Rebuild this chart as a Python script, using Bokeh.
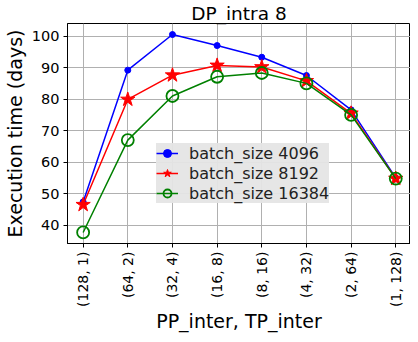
from bokeh.plotting import figure
from bokeh.models import FixedTicker, Range1d, Legend, LegendItem
from bokeh.embed import file_html
from bokeh.resources import INLINE
import math

categories = ["(128, 1)", "(64, 2)", "(32, 4)", "(16, 8)", "(8, 16)", "(4, 32)", "(2, 64)", "(1, 128)"]
bs_4096 = [47.4, 89.2, 100.5, 97.0, 93.3, 87.5, 76.6, 55.0]
bs_8192 = [46.5, 79.9, 87.6, 90.7, 90.2, 85.8, 75.5, 54.8]
bs_16384 = [37.7, 67.0, 81.0, 87.1, 88.3, 85.0, 75.0, 54.8]
y_ticks = [40, 50, 60, 70, 80, 90, 100]

xs = list(range(len(categories)))

FONT = "DejaVu Sans"
X0, X1 = -0.35, 7.33
Y0, Y1 = 34.2, 104.0
p = figure(width=410, height=334, output_backend="svg", toolbar_location=None,
           x_range=Range1d(X0, X1), y_range=Range1d(Y0, Y1),
           min_border_left=62, min_border_right=0, min_border_top=16, min_border_bottom=80)

p.title.text = "DP_intra 8"
p.title.align = "center"
p.title.text_font = FONT
p.title.text_font_size = "18.5px"
p.title.text_font_style = "normal"
p.title.text_color = "black"
p.title.standoff = 0

p.outline_line_color = "black"
p.outline_line_width = 1
p.background_fill_color = "white"

p.xaxis.ticker = FixedTicker(ticks=xs)
p.xaxis.major_label_overrides = {i: c for i, c in enumerate(categories)}
p.xaxis.major_label_orientation = math.pi / 2
p.yaxis.ticker = FixedTicker(ticks=y_ticks)

for ax in (p.xaxis[0], p.yaxis[0]):
    ax.major_label_text_font = FONT
    ax.major_label_text_color = "black"
    ax.axis_label_text_font = FONT
    ax.axis_label_text_font_size = "19px"
    ax.axis_label_text_font_style = "normal"
    ax.axis_label_text_color = "black"
    ax.minor_tick_line_color = None
    ax.major_tick_in = 0
    ax.major_tick_out = 4
    ax.axis_line_color = "black"
    ax.major_label_standoff = 4

p.xaxis.major_label_standoff = 4
p.xaxis.major_label_text_font_size = "14px"
p.yaxis.major_label_text_font_size = "14.5px"
p.yaxis.axis_label = "Execution time (days)"
p.yaxis.axis_label_standoff = 3
p.xaxis.axis_label = "PP_inter, TP_inter"
p.xaxis.axis_label_standoff = 0

p.grid.grid_line_color = "#b0b0b0"
p.grid.grid_line_width = 1

l1 = p.line(xs, bs_4096, color="blue", line_width=1.5)
m1 = p.scatter(xs, bs_4096, marker="circle", size=6, color="blue")
l2 = p.line(xs, bs_8192, color="red", line_width=1.5)
m2 = p.scatter(xs, bs_8192, marker="star", size=15, color="red")
l3 = p.line(xs, bs_16384, color="green", line_width=1.5)
m3 = p.scatter(xs, bs_16384, marker="circle", size=12, fill_color=None, line_color="green", line_width=1.8)

legend = Legend(items=[
    LegendItem(label="batch_size 4096", renderers=[l1, m1]),
    LegendItem(label="batch_size 8192", renderers=[l2, m2]),
    LegendItem(label="batch_size 16384", renderers=[l3, m3]),
], location=(89, 40))
legend.background_fill_color = "#e5e5e5"
legend.background_fill_alpha = 0.95
legend.border_line_color = None
legend.label_text_font = FONT
legend.label_text_font_size = "16px"
legend.label_text_color = "#222222"
legend.glyph_width = 22
legend.glyph_height = 20
legend.label_height = 20
legend.spacing = 0
legend.padding = 4
legend.margin = 0
legend.label_standoff = 11
p.add_layout(legend, "center")

open("out.html", "w").write(file_html(p, INLINE))
